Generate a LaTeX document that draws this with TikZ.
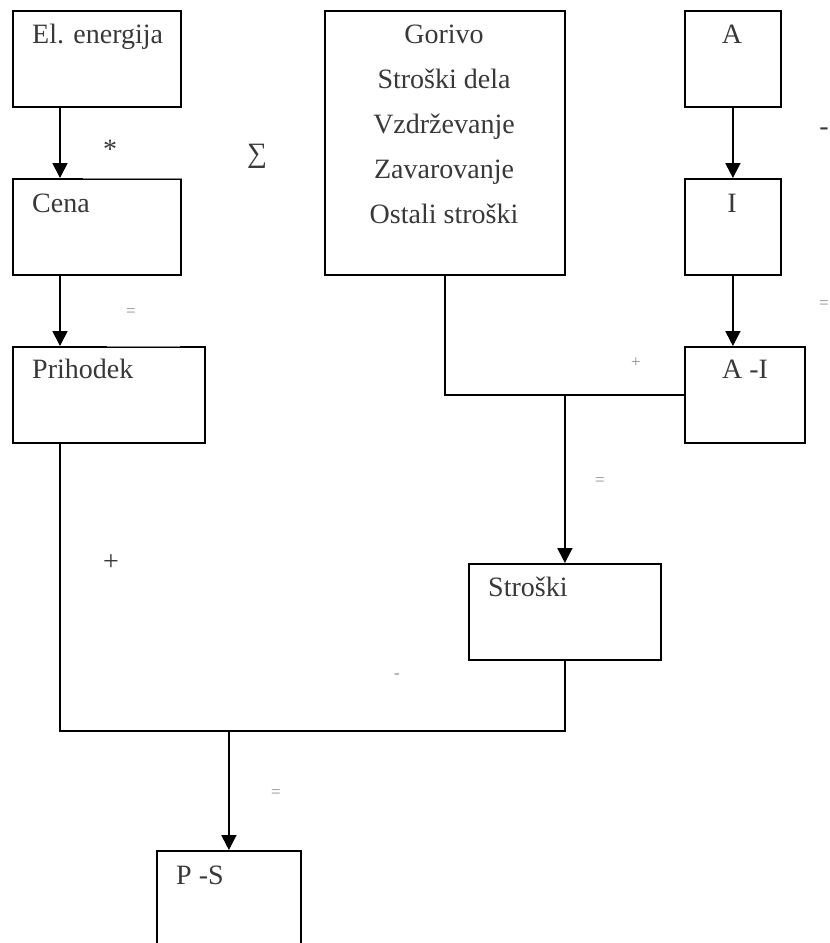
\documentclass[tikz,border=0pt]{standalone}
\usepackage{fontspec}
\setmainfont{Liberation Serif}
\usetikzlibrary{arrows.meta}

\begin{document}
\begin{tikzpicture}[x=1pt, y=-1pt,
        box/.style={draw, line width=1.8pt, anchor=north west, inner sep=0pt},
        txt/.style={text=black!78, font=\fontsize{28}{32}\selectfont, inner sep=0pt},
        sign/.style={text=black!45, font=\fontsize{17}{18}\selectfont, inner sep=0pt},
        wire/.style={line width=1.8pt},
        arr/.style={wire, -{Triangle[width=15pt,length=15pt]}},
        faint/.style={draw=black!45, line width=0.8pt, preaction={draw=white, line width=2.8pt}}]
        \useasboundingbox (0,0) rectangle (830,943);

        % boxes
        \node[box, minimum width=168, minimum height=96] (energija) at (12,10) {};
        \node[box, minimum width=168, minimum height=96] (cena) at (12,178) {};
        \node[box, minimum width=192, minimum height=96] (prihodek) at (12,346) {};
        \node[box, minimum width=240, minimum height=264] (sum) at (324,10) {};
        \node[box, minimum width=96, minimum height=96] (a) at (684,10) {};
        \node[box, minimum width=96, minimum height=96] (i) at (684,178) {};
        \node[box, minimum width=120, minimum height=96] (ai) at (684,346) {};
        \node[box, minimum width=192, minimum height=96] (stroski) at (468,563) {};
        \node[box, minimum width=144, minimum height=110] (ps) at (156,850) {};

        \draw[faint] ([xshift=71pt]cena.north west) -- (cena.north east);
        \draw[faint] ([xshift=95pt]prihodek.north west) -- ([xshift=168pt]prihodek.north west);

        % texts
        \node[txt, anchor=base west] (energijaT) at (32,43) {El. energija};
        \node[txt, anchor=base west] (cenaT) at (32,212) {Cena};
        \node[txt, anchor=base west] (prihodekT) at (32,378) {Prihodek};
        \foreach \t [count=\k] in {Gorivo, Stroški dela, Vzdrževanje, Zavarovanje, Ostali stroški}
                \node[txt, anchor=base] (sum\k) at (444,{43+45.2*(\k-1)}) {\t};
        \node[txt, anchor=base] (aT) at (732,43) {A};
        \node[txt, anchor=base] (iT) at (732,212) {I};
        \node[txt, anchor=base] (aiT) at (745,378) {A -I};
        \node[txt, anchor=base west] (stroskiT) at (488,596) {Stroški};
        \node[txt, anchor=base west] (psT) at (176,884) {P -S};

        % operators
        \node[txt] (times) at (110,149) {*};
        \node[txt] (sigma) at (257,156) {∑};
        \node[txt] (plusP) at (111,563) {+};
        \node[txt, anchor=east] (minusA) at (829,132) {-};
        \node[sign] (eqC) at (131,313) {=};
        \node[sign, anchor=east] (eqI) at (829,305) {=};
        \node[sign] (plusS) at (636,363) {+};
        \node[sign] (eqS) at (600,482) {=};
        \node[sign] (minusS) at (397,676) {-};
        \node[sign] (eqP) at (276,794) {=};

        % connectors
        \coordinate (split) at (stroski.north |- ai.west);
        \coordinate (bus) at (ps.north |- 0,731);
        \draw[arr] ([xshift=48pt]energija.south west) -- ([xshift=48pt]cena.north west);
        \draw[arr] ([xshift=48pt]cena.south west) -- ([xshift=48pt]prihodek.north west);
        \draw[arr] (a.south) -- (i.north);
        \draw[arr] (i.south) -- (i.south |- ai.north);
        \draw[wire] (sum.south) |- (ai.west);
        \draw[arr] (split) -- (stroski.north);
        \draw[wire] ([xshift=48pt]prihodek.south west) |- (bus) -| (stroski.south);
        \draw[arr] (bus) -- (ps.north);
\end{tikzpicture}
\end{document}
